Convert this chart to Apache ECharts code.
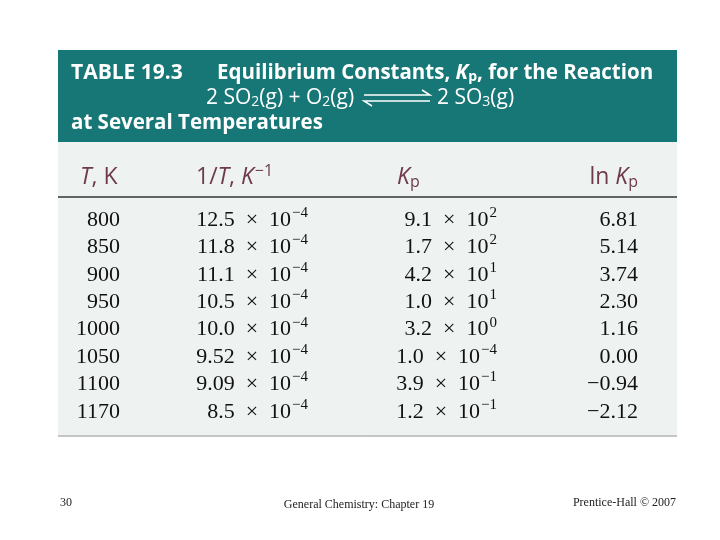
<!DOCTYPE html>
<html><head><meta charset="utf-8">
<script src="https://cdn.jsdelivr.net/npm/echarts@6/dist/echarts.min.js"></script>
<style>html,body{margin:0;background:#fff}#c{width:720px;height:540px}</style>
</head><body><div id="c"></div>
<script>
// table values
var temps = ['800', '850', '900', '950', '1000', '1050', '1100', '1170'];
var invT = ['12.5', '11.8', '11.1', '10.5', '10.0', '9.52', '9.09', '8.5'];
var kpMant = ['9.1', '1.7', '4.2', '1.0', '3.2', '1.0', '3.9', '1.2'];
var kpExp = ['2', '2', '1', '1', '0', '−4', '−1', '−1'];
var lnKp = ['6.81', '5.14', '3.74', '2.30', '1.16', '0.00', '−0.94', '−2.12'];

var chart = echarts.init(document.getElementById('c'));
var sans = '"Open Sans", Lato, sans-serif';
var serif = '"Liberation Serif", "DejaVu Serif", serif';
var hdColor = '#6e3a4c';
var times = '\u2002×\u2002';

var els = [
  {type: 'rect', shape: {x: 58, y: 50, width: 619, height: 92}, style: {fill: '#177676'}},
  {type: 'rect', shape: {x: 58, y: 142, width: 619, height: 295}, style: {fill: '#eef2f1'}},
  {type: 'line', shape: {x1: 58, y1: 197, x2: 677, y2: 197}, style: {stroke: '#333', lineWidth: 1.5}},
  {type: 'line', shape: {x1: 58, y1: 436, x2: 677, y2: 436}, style: {stroke: '#999', lineWidth: 1}},
  {type: 'text', x: 71, y: 73, style: {text: 'TABLE 19.3', font: 'bold 21px ' + sans, fill: '#fff', verticalAlign: 'middle'}},
  {type: 'text', x: 217, y: 73, style: {
    text: '{b|Equilibrium Constants, }{i|K}{sb|p}{b|, for the Reaction}',
    fill: '#fff', verticalAlign: 'middle',
    rich: {b: {font: 'bold 20.5px ' + sans, fill: '#fff'}, i: {font: 'italic bold 20.5px ' + sans, fill: '#fff'},
           sb: {font: 'bold 14px ' + sans, fill: '#fff', padding: [8, 0, 0, 0]}}}},
  {type: 'text', x: 206, y: 98, style: {
    text: '{b|2 SO}{sb|2}{b|(g) + O}{sb|2}{b|(g)}', verticalAlign: 'middle',
    rich: {b: {font: '21px ' + sans, fill: '#fff'}, sb: {font: '14px ' + sans, fill: '#fff', padding: [8, 0, 0, 0]}}}},
  {type: 'polyline', shape: {points: [[364, 95], [430, 95], [422, 90]]}, style: {stroke: '#fff', lineWidth: 1.5, fill: null}},
  {type: 'polyline', shape: {points: [[430, 101], [364, 101], [372, 106]]}, style: {stroke: '#fff', lineWidth: 1.5, fill: null}},
  {type: 'text', x: 437, y: 98, style: {
    text: '{b|2 SO}{sb|3}{b|(g)}', verticalAlign: 'middle',
    rich: {b: {font: '21px ' + sans, fill: '#fff'}, sb: {font: '14px ' + sans, fill: '#fff', padding: [8, 0, 0, 0]}}}},
  {type: 'text', x: 71, y: 123, style: {text: 'at Several Temperatures', font: 'bold 20.5px ' + sans, fill: '#fff', verticalAlign: 'middle'}},
  {type: 'text', x: 80, y: 177, style: {
    text: '{i|T}{r|, K}', verticalAlign: 'middle',
    rich: {i: {font: 'italic 23px ' + sans, fill: hdColor}, r: {font: '23px ' + sans, fill: hdColor}}}},
  {type: 'text', x: 196, y: 177, style: {
    text: '{r|1/}{i|T}{r|, }{i|K}{s|−1}', verticalAlign: 'middle',
    rich: {i: {font: 'italic 23px ' + sans, fill: hdColor}, r: {font: '23px ' + sans, fill: hdColor},
           s: {font: '16px ' + sans, fill: hdColor, padding: [0, 0, 12, 1]}}}},
  {type: 'text', x: 397, y: 177, style: {
    text: '{i|K}{s|p}', verticalAlign: 'middle',
    rich: {i: {font: 'italic 23px ' + sans, fill: hdColor}, s: {font: '16px ' + sans, fill: hdColor, padding: [10, 0, 0, 0]}}}},
  {type: 'text', x: 638, y: 177, style: {
    text: '{r|ln }{i|K}{s|p}', align: 'right', verticalAlign: 'middle',
    rich: {i: {font: 'italic 23px ' + sans, fill: hdColor}, r: {font: '23px ' + sans, fill: hdColor},
           s: {font: '16px ' + sans, fill: hdColor, padding: [10, 0, 0, 0]}}}}
];

var rowRich = {n: {font: '22px ' + serif, fill: '#111'}, s: {font: '15px ' + serif, fill: '#111', padding: [0, 0, 14, 1]}};
temps.forEach(function (t, i) {
  var y = 220 + i * 27.4;
  els.push({type: 'text', x: 120, y: y, style: {text: t, font: '22px ' + serif, fill: '#111', align: 'right', verticalAlign: 'middle'}});
  els.push({type: 'text', x: 308, y: y, style: {text: '{n|' + invT[i] + times + '10}{s|−4}', align: 'right', verticalAlign: 'middle', rich: rowRich}});
  els.push({type: 'text', x: 497, y: y, style: {text: '{n|' + kpMant[i] + times + '10}{s|' + kpExp[i] + '}', align: 'right', verticalAlign: 'middle', rich: rowRich}});
  els.push({type: 'text', x: 638, y: y, style: {text: lnKp[i], font: '22px ' + serif, fill: '#111', align: 'right', verticalAlign: 'middle'}});
});

els.push({type: 'text', x: 60, y: 503, style: {text: '30', font: '12px ' + serif, fill: '#222', verticalAlign: 'middle'}});
els.push({type: 'text', x: 359, y: 505, style: {text: 'General Chemistry: Chapter 19', font: '12px ' + serif, fill: '#222', align: 'center', verticalAlign: 'middle'}});
els.push({type: 'text', x: 676, y: 503, style: {text: 'Prentice-Hall © 2007', font: '12px ' + serif, fill: '#222', align: 'right', verticalAlign: 'middle'}});

chart.setOption({animation: false, graphic: {elements: els}});
</script>
</body></html>
